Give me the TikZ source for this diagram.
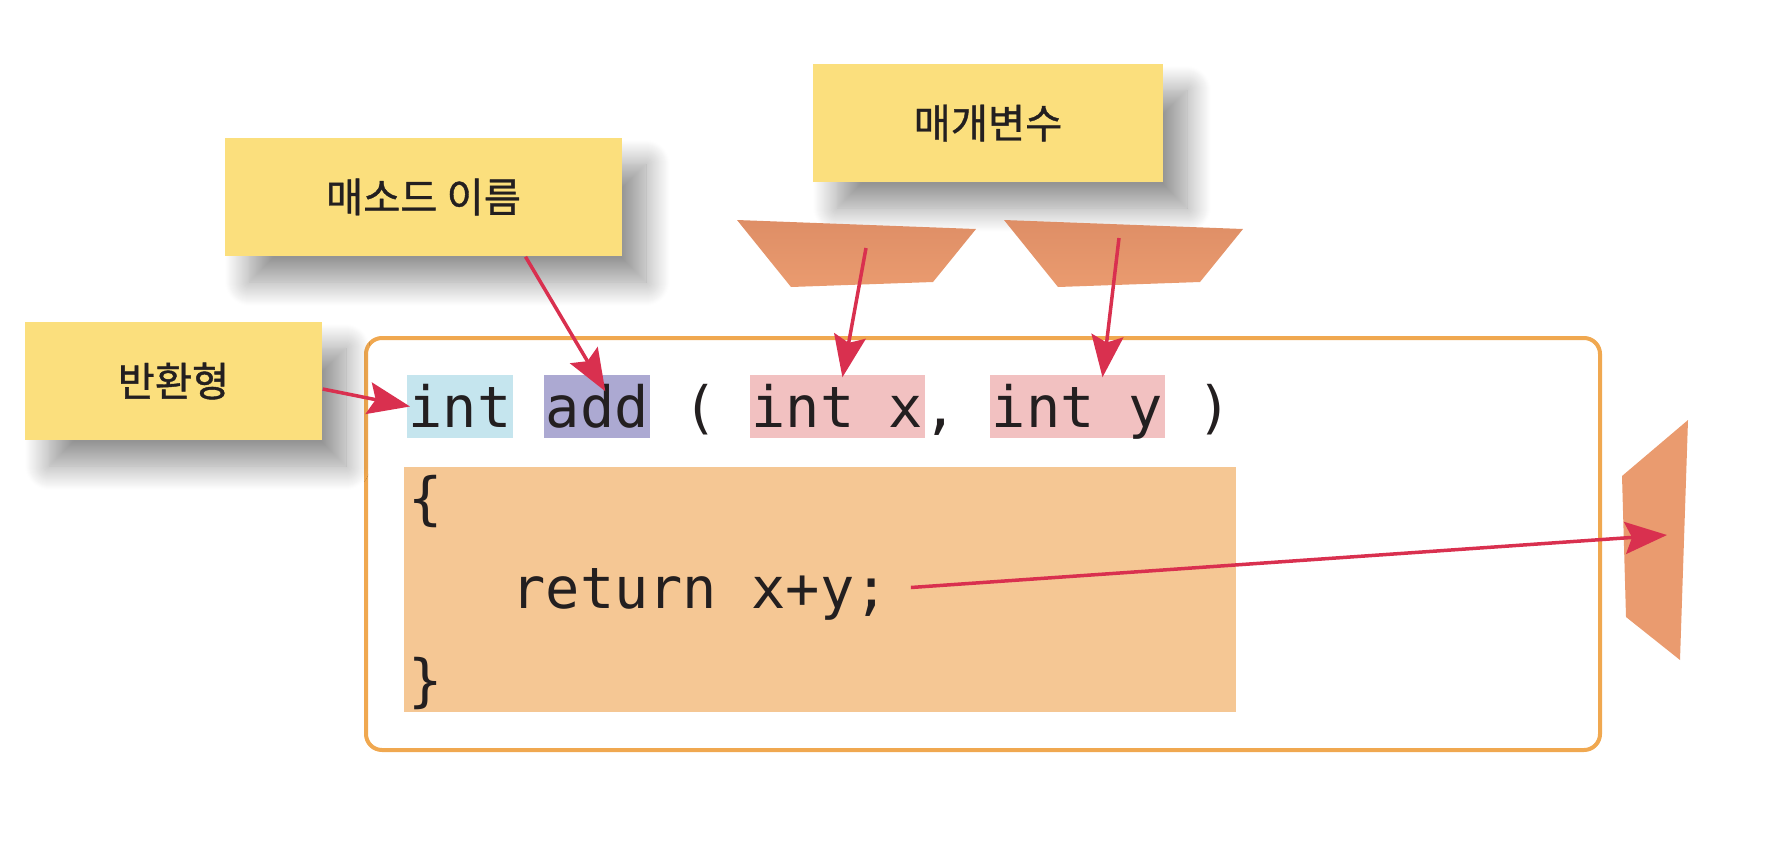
\documentclass[tikz,border=0pt]{standalone}
\usepackage{fontspec}
\usepackage{xcolor}
\usepackage{tikz}
\usetikzlibrary{arrows.meta,positioning,shadows.blur}
\newfontfamily\kofont[FakeBold=1]{Noto Sans CJK KR}
\newfontfamily\codefont{DejaVu Sans Mono}
\definecolor{noteyellow}{HTML}{FBDF7D}
\definecolor{frameorange}{HTML}{F0A850}
\definecolor{bodyorange}{HTML}{F5C794}
\definecolor{typeblue}{HTML}{C5E5EE}
\definecolor{namepurple}{HTML}{ACA9D2}
\definecolor{parampink}{HTML}{F2C1C1}
\definecolor{flapsalmon}{HTML}{EA9B6F}
\definecolor{flapdark}{HTML}{DE8E66}
\definecolor{arrowred}{HTML}{D9304F}
\definecolor{codeink}{HTML}{231F20}

\begin{document}
\begin{tikzpicture}[
  x=0.1mm, y=-0.1mm,
  note/.style={fill=noteyellow, minimum height=11.8mm, text=codeink,
               font=\kofont\fontsize{11.5pt}{13pt}\selectfont,
               blur shadow={shadow xshift=2.4mm, shadow yshift=-2.6mm,
                            shadow blur radius=2.4mm, shadow blur steps=25,
                            shadow opacity=42}},
  tok/.style={anchor=base west, inner xsep=0.15mm, inner ysep=0pt,
              text height=5.2mm, text depth=1.1mm, text=codeink,
              font=\codefont\fontsize{16.2pt}{19pt}\selectfont},
  flap/.style={top color=flapdark, bottom color=flapsalmon, shading angle=0},
  arr/.style={-{Stealth[length=4.2mm, width=3.2mm, inset=0.7mm]},
              line width=0.35mm, draw=arrowred}
]
\useasboundingbox (0,0) rectangle (1782,862);

% code frame and body
\draw[frameorange, line width=0.4mm, rounded corners=1.6mm]
  (366,338) rectangle (1600,750);
\fill[bodyorange] (404,467) rectangle (1236,712);

% signature line
\node[tok, fill=typeblue]   (rtype)  at (406.5,427)  {int};
\node[tok, fill=namepurple] (mname)  at (543.7,427)  {add};
\node[tok]                  (lparen) at (680.9,427)  {(};
\node[tok, fill=parampink]  (parx)   at (749.5,427)  {int x};
\node[tok]                  (comma)  at (921,427)    {,};
\node[tok, fill=parampink]  (pary)   at (989.6,427)  {int y};
\node[tok]                  (rparen) at (1195.4,427) {)};

% body lines
\node[tok] (openbr)  at (406.5,518) {\{};
\node[tok] (retstmt) at (509.4,608) {return x+y;};
\node[tok] (closebr) at (406.5,700) {\}};

% sticky notes
\node[note, minimum width=35mm]   (parambox)  at (988,123)   {매개변수};
\node[note, minimum width=39.7mm] (methodbox) at (423.5,197) {매소드 이름};
\node[note, minimum width=29.7mm] (retbox)    at (173.5,381) {반환형};

% flaps
\shade[flap] (737,220) -- (976,229) -- (933,282) -- (791,287) -- cycle;
\shade[flap] (1004,220) -- (1243,229) -- (1200,282) -- (1058,287) -- cycle;
\fill[flapsalmon] (1622,476) -- (1688,420) -- (1680,660) -- (1626,617) -- cycle;

\coordinate (xsrc) at (866,248);
\coordinate (ysrc) at (1119,238);
\coordinate (rettip) at (1667,535);

% arrows
\draw[arr] ([yshift=-0.8mm]retbox.east) -- ([xshift=0.35mm]rtype.west);
\draw[arr] ([xshift=10.2mm]methodbox.south) -- ([xshift=0.8mm,yshift=-1.7mm]mname.north);
\foreach \src/\dst/\dx in {xsrc/parx/0.5mm, ysrc/pary/2.5mm}
  \draw[arr] (\src) -- ([xshift=\dx, yshift=-0.3mm]\dst.north);
\draw[arr] ([xshift=2mm]retstmt.east) -- (rettip);
\end{tikzpicture}
\end{document}
